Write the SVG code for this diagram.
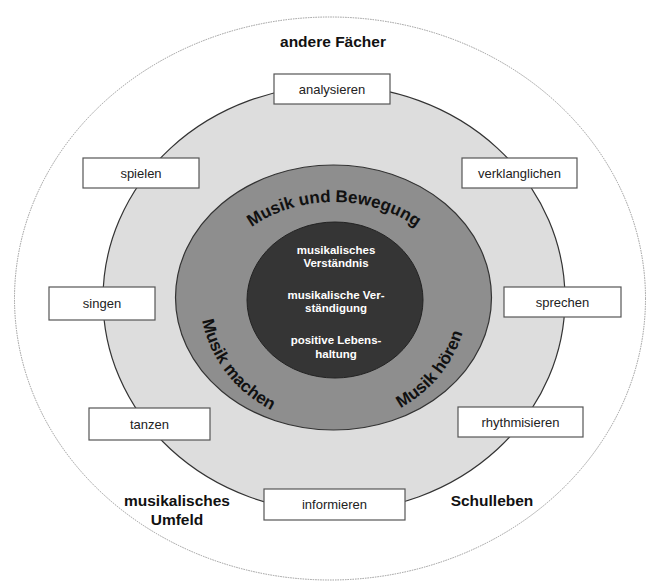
<svg xmlns="http://www.w3.org/2000/svg" width="646" height="583" viewBox="0 0 646 583">
<style>
.lbl{font-family:"Liberation Sans",Arial,sans-serif;font-size:13px;fill:#222;text-anchor:middle}
.big{font-family:"Liberation Sans",Arial,sans-serif;font-size:15.5px;font-weight:bold;fill:#111;text-anchor:middle}
.ctr{font-family:"Liberation Sans",Arial,sans-serif;font-size:11.5px;font-weight:bold;fill:#fff;text-anchor:middle}
.arc{font-family:"Liberation Sans",Arial,sans-serif;font-size:17px;font-weight:bold;fill:#111}
.box{fill:#fff;stroke:#555;stroke-width:1.2}
</style>
<defs>
<path id="topArc" d="M 212 298 A 122 96 0 0 1 456 298" fill="none"/>
<path id="botArc" d="M 200 297 A 134 128 0 0 0 468 297" fill="none"/>
</defs>
<g id="rings">
<ellipse id="outer" cx="330" cy="298.5" rx="315.5" ry="281.5" fill="#fff" stroke="#999" stroke-width="1" stroke-dasharray="1.5 1"/>
<ellipse id="light" cx="334" cy="298.7" rx="231" ry="213" fill="#dddddd" stroke="#333" stroke-width="1.2"/>
<ellipse id="medium" cx="333.5" cy="297.5" rx="158" ry="132.5" fill="#8e8e8e" stroke="#333" stroke-width="1.2"/>
<ellipse id="dark" cx="335" cy="300" rx="88" ry="78" fill="#353535" stroke="#222" stroke-width="1"/>
</g>
<g id="arc-labels">
<text class="arc"><textPath href="#topArc" startOffset="50%" text-anchor="middle">Musik und Bewegung</textPath></text>
<text class="arc"><textPath href="#botArc" startOffset="20%" text-anchor="middle">Musik machen</textPath></text>
<text class="arc"><textPath href="#botArc" startOffset="79%" text-anchor="middle">Musik hören</textPath></text>
</g>
<g id="center">
<text class="ctr" x="336" y="254">musikalisches</text>
<text class="ctr" x="336" y="267">Verständnis</text>
<text class="ctr" x="336" y="299">musikalische Ver-</text>
<text class="ctr" x="336" y="312">ständigung</text>
<text class="ctr" x="336" y="344">positive Lebens-</text>
<text class="ctr" x="336" y="358">haltung</text>
</g>
<g id="outer-labels">
<text class="big" x="333" y="47">andere Fächer</text>
<text class="big" x="177" y="506">musikalisches</text>
<text class="big" x="177" y="525">Umfeld</text>
<text class="big" x="492" y="506">Schulleben</text>
</g>
<g id="connectors"></g>
<g id="n-analysieren"><rect class="box" x="274" y="74" width="116" height="30"/><text class="lbl" x="332" y="93.5">analysieren</text></g>
<g id="n-spielen"><rect class="box" x="83" y="158" width="116" height="30"/><text class="lbl" x="141" y="177.5">spielen</text></g>
<g id="n-verklanglichen"><rect class="box" x="462" y="158" width="115" height="30"/><text class="lbl" x="519.5" y="177.5">verklanglichen</text></g>
<g id="n-singen"><rect class="box" x="49" y="287" width="106" height="33"/><text class="lbl" x="102" y="308">singen</text></g>
<g id="n-sprechen"><rect class="box" x="504" y="287" width="117" height="30"/><text class="lbl" x="562.5" y="306.5">sprechen</text></g>
<g id="n-tanzen"><rect class="box" x="89" y="408" width="121" height="32"/><text class="lbl" x="149.5" y="428.5">tanzen</text></g>
<g id="n-rhythmisieren"><rect class="box" x="458" y="407" width="125" height="30"/><text class="lbl" x="520.5" y="426.5">rhythmisieren</text></g>
<g id="n-informieren"><rect class="box" x="264" y="489" width="141" height="31"/><text class="lbl" x="334.5" y="509">informieren</text></g>
</svg>
